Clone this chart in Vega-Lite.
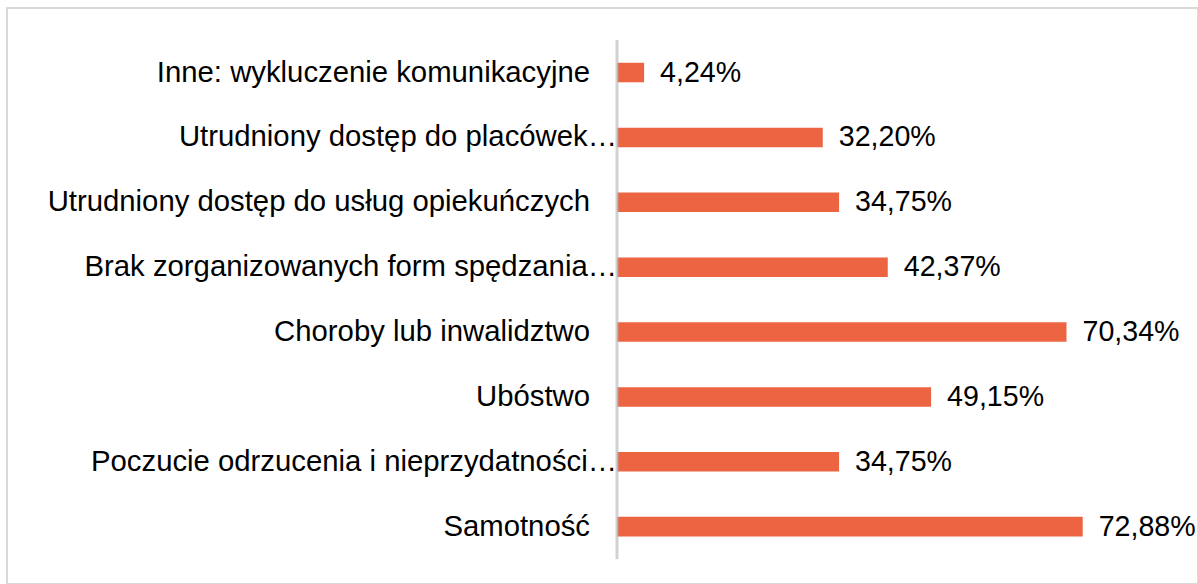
{
  "$schema": "https://vega.github.io/schema/vega-lite/v6.json",
  "autosize": "none",
  "padding": {"left": 7, "top": 8, "right": 0, "bottom": 0},
  "width": 1191,
  "height": 576,
  "background": "white",
  "config": {
    "view": {"stroke": "#D9D9D9", "strokeWidth": 2},
    "font": "Liberation Sans",
    "locale": {
      "number": {"decimal": ",", "thousands": " ", "grouping": [3], "currency": ["", " zł"], "percent": "%"}
    }
  },
  "data": {
    "values": [
      {"cat": "Inne: wykluczenie komunikacyjne", "v": 0.0424},
      {"cat": "Utrudniony dostęp do placówek…", "v": 0.3220},
      {"cat": "Utrudniony dostęp do usług opiekuńczych", "v": 0.3475},
      {"cat": "Brak zorganizowanych form spędzania…", "v": 0.4237},
      {"cat": "Choroby lub inwalidztwo", "v": 0.7034},
      {"cat": "Ubóstwo", "v": 0.4915},
      {"cat": "Poczucie odrzucenia i nieprzydatności…", "v": 0.3475},
      {"cat": "Samotność", "v": 0.7288}
    ]
  },
  "encoding": {
    "y": {
      "field": "cat", "type": "nominal", "sort": null, "axis": null,
      "scale": {"type": "band", "paddingInner": 0.699, "paddingOuter": 0.789, "align": 0.535, "round": false}
    }
  },
  "layer": [
    {
      "mark": {"type": "bar", "color": "#EC6442"},
      "encoding": {
        "x": {"field": "v", "type": "quantitative", "axis": null,
              "scale": {"domain": [-0.9546, 0.9092], "nice": false, "zero": false}},
        "x2": {"datum": 0}
      }
    },
    {
      "mark": {"type": "tick", "color": "#BFBFBF", "thickness": 3, "size": 65, "orient": "vertical"},
      "encoding": {
        "x": {"datum": 0, "type": "quantitative", "axis": null}
      }
    },
    {
      "transform": [{"filter": "indexof(datum.cat, '…') < 0"}],
      "mark": {"type": "text", "align": "right", "baseline": "middle", "dx": -27, "fontSize": 29.3, "color": "#000000"},
      "encoding": {
        "x": {"datum": 0, "type": "quantitative", "axis": null},
        "text": {"field": "cat"}
      }
    },
    {
      "transform": [{"filter": "indexof(datum.cat, '…') >= 0"}],
      "mark": {"type": "text", "align": "right", "baseline": "middle", "dx": 0, "fontSize": 29.3, "color": "#000000"},
      "encoding": {
        "x": {"datum": 0, "type": "quantitative", "axis": null},
        "text": {"field": "cat"}
      }
    },
    {
      "mark": {"type": "text", "align": "left", "baseline": "middle", "dx": 16, "fontSize": 28.6, "color": "#000000"},
      "encoding": {
        "x": {"field": "v", "type": "quantitative", "axis": null},
        "text": {"field": "v", "type": "quantitative", "format": ".2%"}
      }
    }
  ]
}
